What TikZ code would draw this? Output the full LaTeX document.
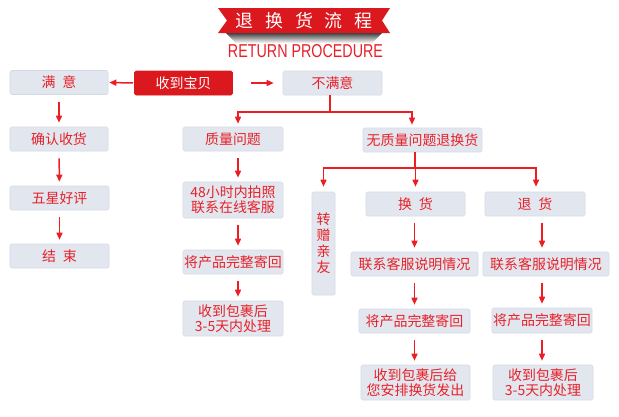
\documentclass[tikz,border=0pt]{standalone}
\usepackage{fontspec}
\usepackage{graphicx}
\setmainfont{Noto Sans CJK SC}
\newfontfamily\latinsans{Liberation Sans}
\usetikzlibrary{arrows.meta}
\definecolor{boxfill}{RGB}{226,231,239}
\definecolor{boxline}{RGB}{212,218,228}
\definecolor{txtred}{RGB}{232,32,40}
\definecolor{bannerred}{RGB}{218,24,30}
\definecolor{linered}{RGB}{236,30,36}
\begin{document}
\begin{tikzpicture}[x=1bp,y=-1bp,
  box/.style={fill=boxfill, draw=boxline, line width=0.6bp, rounded corners=1.5bp, text=txtred,
    font=\fontsize{14}{15.5}\selectfont, inner sep=0pt, align=center},
  redbox/.style={box, fill=bannerred, draw=bannerred, text=white},
  sz/.style n args={2}{minimum width=#1bp, minimum height=#2bp},
  conn/.style={draw=linered, line width=1.5bp},
  arr/.style={conn, -{Triangle[width=6bp,length=7bp]}},
  colarr/.style={arr, shorten <=7bp, shorten >=4bp},
]
\useasboundingbox (0,0) rectangle (619,416);
\fill[white] (0,0) rectangle (619,416);

% banner
\shade[top color=black!75, bottom color=white] (226,33) -- (382,33) -- (372,43) -- (236,43) -- cycle;
\fill[bannerred] (218,8) -- (390,8) -- (382,20.5) -- (390,33) -- (218,33) -- (227,20.5) -- cycle;
\node[text=white, font=\fontsize{18}{20}\selectfont, inner sep=0pt] (title) at (304,20.5)
  {退\hspace{12bp}换\hspace{12bp}货\hspace{12bp}流\hspace{12bp}程};
\node[text=txtred, inner sep=0pt] (subtitle) at (305.5,51.5)
  {\resizebox{155bp}{13bp}{\latinsans RETURN PROCEDURE}};

% left column
\node[box, sz={98}{24}] (manyi) at (59,82.5) {满\hspace{0.5em}意};
\node[box, sz={98}{24}] (queren) at (59,139) {确认收货};
\node[box, sz={99}{24}] (wuxing) at (59.5,198) {五星好评};
\node[box, sz={99}{24}] (jieshu) at (59.5,256) {结\hspace{0.5em}束};

% top row
\node[redbox, sz={98}{24}] (shoubao) at (183.5,83) {收到宝贝};
\node[box, sz={99}{24}] (bumanyi) at (332.5,83) {不满意};

% quality column
\node[box, sz={100}{36}] (h48) at (233,200) {48小时内拍照\\联系在线客服};
\node[box, sz={100}{24}] (zhiliang) at (233,139) {质量问题};
\node[box, sz={100}{24}] (jiangL) at (233,262) {将产品完整寄回};
\node[box, sz={100}{35}] (shoudaoL) at (233,318.5) {收到包裹后\\3-5天内处理};

% no quality problem
\node[box, sz={119}{24}] (wuzhiliang) at (422.5,140) {无质量问题退换货};
\node[box, sz={23}{103}, font=\fontsize{14}{16}\selectfont] (zhuanzeng) at (323.5,243.5) {转\\赠\\亲\\友};
\node[box, sz={99}{24}] (huanhuo) at (415.5,204) {换\hspace{0.5em}货};
\node[box, sz={100}{24}] (tuihuo) at (535,204) {退\hspace{0.5em}货};
\node[box, sz={127}{24}] (lianxiM) at (414.5,264) {联系客服说明情况};
\node[box, sz={126}{24}] (lianxiR) at (546,264) {联系客服说明情况};
\node[box, sz={111}{24}] (jiangM) at (414.5,321) {将产品完整寄回};
\node[box, sz={100}{25}] (jiangR) at (542,320.5) {将产品完整寄回};
\node[box, sz={109}{35}] (shoudaoM) at (415.5,382.5) {收到包裹后给\\您安排换货发出};
\node[box, sz={100}{35}] (shoudaoR) at (543,382.5) {收到包裹后\\3-5天内处理};

% top arrows
\draw[arr, shorten <=1bp, shorten >=1bp] (shoubao.west) -- (manyi.east);
\draw[arr, shorten <=18bp, shorten >=9bp] (shoubao.east) -- (bumanyi.west);

% left column arrows
\draw[colarr] (manyi) -- (queren);
\draw[colarr] (queren) -- (wuxing);
\draw[colarr] (wuxing) -- (jieshu);

% branch from 不满意
\coordinate (j1) at (330,112);
\draw[conn] (bumanyi.south -| j1) -- (j1);
\draw[arr, shorten >=3bp] (j1) -| ([xshift=5bp]zhiliang.north);
\draw[arr, shorten >=3bp] (j1) -| ([xshift=-10.5bp]wuzhiliang.north);

% quality column arrows
\draw[colarr] ([xshift=5bp]zhiliang.south) -- ([xshift=5bp]h48.north);
\draw[colarr] ([xshift=5bp]h48.south) -- ([xshift=5bp]jiangL.north);
\draw[colarr] ([xshift=5bp]jiangL.south) -- ([xshift=5bp]shoudaoL.north);

% branch from 无质量问题退换货
\coordinate (j2) at (415,168);
\draw[conn] (wuzhiliang.south -| j2) -- (j2);
\draw[arr, shorten >=5bp] (j2) -| (zhuanzeng.north);
\draw[arr, shorten >=5bp] (j2) -| (huanhuo.north);
\draw[arr, shorten >=5bp] (j2) -| ([xshift=1bp]tuihuo.north);

% middle column arrows
\draw[colarr] (huanhuo.south -| jiangM) -- (lianxiM.north -| jiangM);
\draw[colarr] (lianxiM.south -| jiangM) -- (jiangM.north);
\draw[colarr] (jiangM.south) -- (shoudaoM.north -| jiangM);

% right column arrows
\draw[colarr] (tuihuo.south -| jiangR) -- (lianxiR.north -| jiangR);
\draw[colarr] (lianxiR.south -| jiangR) -- (jiangR.north);
\draw[colarr] (jiangR.south) -- (shoudaoR.north -| jiangR);
\end{tikzpicture}
\end{document}
